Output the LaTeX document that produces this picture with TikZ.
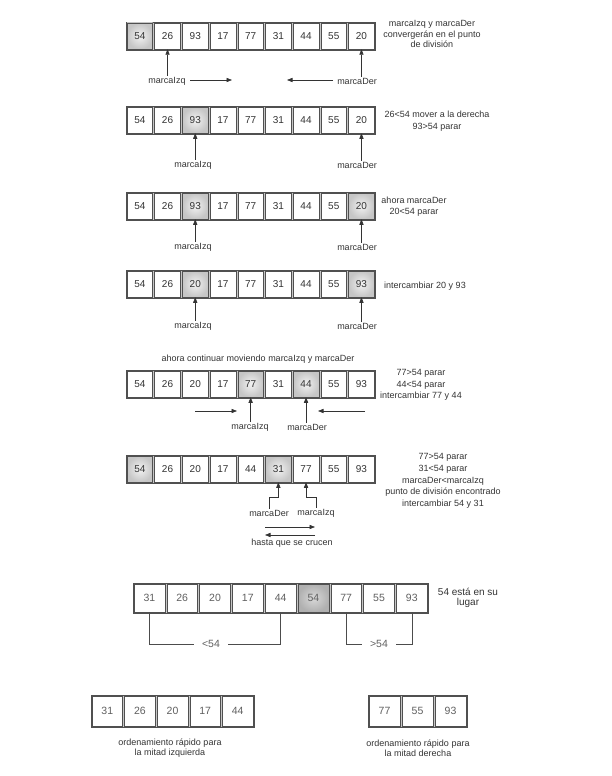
\documentclass[tikz,border=0pt]{standalone}
\usepackage{fontspec}
\setmainfont{Liberation Sans}
\usetikzlibrary{arrows.meta,shadows}
\definecolor{txt}{HTML}{333333}
\definecolor{bord}{HTML}{505050}
\tikzset{
  frame/.style={draw=bord, fill=gray!45, line width=0.7pt,
    drop shadow={shadow xshift=1pt, shadow yshift=-1.3pt, opacity=0.35}},
  cellbase/.style={draw=bord, line width=0.5pt, inner sep=0pt,
    font=\fontsize{10}{12}\selectfont, text=txt},
  celln/.style={cellbase, fill=white},
  cellh/.style={cellbase, shading=radial, inner color=gray!10, outer color=gray!45},
  cellm/.style={cellbase, fill=white, text=gray!75!black, font=\fontsize{10.5}{12}\selectfont},
  cellk/.style={cellbase, shading=radial, inner color=gray!30, outer color=gray!62,
    text=gray!75!black, font=\fontsize{10.5}{12}\selectfont},
  lbl/.style={font=\fontsize{9}{10.5}\selectfont, text=txt, inner sep=1pt},
  note/.style={lbl, align=center},
  arr/.style={draw=txt, line width=0.6pt, -{Triangle[length=5.5pt,width=4.2pt]}},
  brk/.style={font=\fontsize{10.5}{12}\selectfont, text=gray!75!black, inner xsep=8pt, inner ysep=0pt},
  brkline/.style={draw=gray!60!black, line width=0.6pt}
}
\newcommand{\cellrow}[7]{%
  \path[frame] (#2,#3) rectangle ({#2+#6*#4},{#3+#5});
  \foreach \v/\s [count=\i] in {#7} {
    \node[cell\s, minimum width={#4pt-2pt}, minimum height={#5pt-2pt}]
      (#1-\i) at ({#2+(\i-0.5)*#4},{#3+#5/2}) {\v};
  }
}
\begin{document}
\begin{tikzpicture}[x=1pt,y=-1pt]
\useasboundingbox (0,0) rectangle (611,776);

% ---- row 1
\cellrow{a}{126}{22}{27.7}{28}{9}{54/h,26/n,93/n,17/n,77/n,31/n,44/n,55/n,20/n}
\node[lbl] (ai) at (167,81) {marcaIzq};
\node[lbl] (ad) at (357,81) {marcaDer};
\draw[arr] (a-2 |- ai.north) -- (a-2.south);
\draw[arr] (a-9 |- ad.north) -- (a-9.south);
\coordinate (a1s) at (190,80); \coordinate (a1e) at (232,80);
\coordinate (a2s) at (333,80); \coordinate (a2e) at (287,80);
\draw[arr] (a1s) -- (a1e);
\draw[arr] (a2s) -- (a2e);
\node[note, font=\fontsize{9}{10.3}\selectfont] (an) at (432,34) {marcaIzq y marcaDer\\convergerán en el punto\\de división};

% ---- row 2
\cellrow{b}{126}{106}{27.7}{28}{9}{54/n,26/n,93/h,17/n,77/n,31/n,44/n,55/n,20/n}
\node[lbl] (bi) at (193,165) {marcaIzq};
\node[lbl] (bd) at (357,165) {marcaDer};
\draw[arr] (b-3 |- bi.north) -- (b-3.south);
\draw[arr] (b-9 |- bd.north) -- (b-9.south);
\node[note, font=\fontsize{9}{12}\selectfont] (bn) at (437,121) {26<54 mover a la derecha\\93>54 parar};

% ---- row 3
\cellrow{c}{126}{192}{27.7}{28}{9}{54/n,26/n,93/h,17/n,77/n,31/n,44/n,55/n,20/h}
\node[lbl] (ci) at (193,247) {marcaIzq};
\node[lbl] (cd) at (357,247) {marcaDer};
\draw[arr] (c-3 |- ci.north) -- (c-3.south);
\draw[arr] (c-9 |- cd.north) -- (c-9.south);
\node[note, font=\fontsize{9}{11.5}\selectfont] (cn) at (414,206.5) {ahora marcaDer\\20<54 parar};

% ---- row 4
\cellrow{d}{126}{270}{27.7}{28}{9}{54/n,26/n,20/h,17/n,77/n,31/n,44/n,55/n,93/h}
\node[lbl] (di) at (193,326) {marcaIzq};
\node[lbl] (dd) at (357,326) {marcaDer};
\draw[arr] (d-3 |- di.north) -- (d-3.south);
\draw[arr] (d-9 |- dd.north) -- (d-9.south);
\node[note] (dn) at (425,286) {intercambiar 20 y 93};

% ---- row 5
\node[lbl] (et) at (258,359) {ahora continuar moviendo marcaIzq y marcaDer};
\cellrow{e}{126}{370}{27.7}{28}{9}{54/n,26/n,20/n,17/n,77/h,31/n,44/h,55/n,93/n}
\node[lbl] (ei) at (250,427) {marcaIzq};
\node[lbl] (ed) at (307,427) {marcaDer};
\draw[arr] (e-5 |- ei.north) -- (e-5.south);
\draw[arr] (e-7 |- ed.north) -- (e-7.south);
\coordinate (e1s) at (195,411); \coordinate (e1e) at (237,411);
\coordinate (e2s) at (365,411); \coordinate (e2e) at (318,411);
\draw[arr] (e1s) -- (e1e);
\draw[arr] (e2s) -- (e2e);
\node[note, font=\fontsize{9}{11.8}\selectfont] (en) at (421,385) {77>54 parar\\44<54 parar\\intercambiar 77 y 44};

% ---- row 6
\cellrow{f}{126}{455}{27.7}{28}{9}{54/h,26/n,20/n,17/n,44/n,31/h,77/n,55/n,93/n}
\node[lbl] (fd) at (269,513) {marcaDer};
\node[lbl] (fi) at (316,513) {marcaIzq};
\coordinate (fk) at (0,497);
\draw[arr] (fd.north) -- (fd.north |- fk) -| (f-6.south);
\draw[arr] (fi.north) -- (fi.north |- fk) -| (f-7.south);
\coordinate (f1s) at (265,527); \coordinate (f1e) at (315,527);
\coordinate (f2s) at (315,535); \coordinate (f2e) at (265,535);
\draw[arr] (f1s) -- (f1e);
\draw[arr] (f2s) -- (f2e);
\node[lbl] (fc) at (292,543) {hasta que se crucen};
\node[note, font=\fontsize{9}{11.7}\selectfont] (fn) at (443,481) {77>54 parar\\31<54 parar\\marcaDer<marcaIzq\\punto de división encontrado\\intercambiar 54 y 31};

% ---- row 7
\cellrow{g}{133}{583}{32.8}{30}{9}{31/m,26/m,20/m,17/m,44/m,54/k,77/m,55/m,93/m}
\node[brk] (lt) at (211,644) {<54};
\node[brk] (gt) at (379,644) {>54};
\draw[brkline] (g-1.south) |- (lt.west);
\draw[brkline] (lt.east) -| (g-5.south);
\draw[brkline] (g-7.south) |- (gt.west);
\draw[brkline] (gt.east) -| (g-9.south);
\node[note, font=\fontsize{10}{10.5}\selectfont, text=black!80] (gn) at (468,598) {54 está en su\\lugar};

% ---- row 8
\cellrow{h}{91}{695}{32.6}{32}{5}{31/m,26/m,20/m,17/m,44/m}
\cellrow{k}{368}{695}{33}{32}{3}{77/m,55/m,93/m}
\node[note, font=\fontsize{9}{10.5}\selectfont] (hn) at (170,748) {ordenamiento rápido para\\la mitad izquierda};
\node[note, font=\fontsize{9}{10.5}\selectfont] (kn) at (418,748) {ordenamiento rápido para\\la mitad derecha};
\end{tikzpicture}
\end{document}
